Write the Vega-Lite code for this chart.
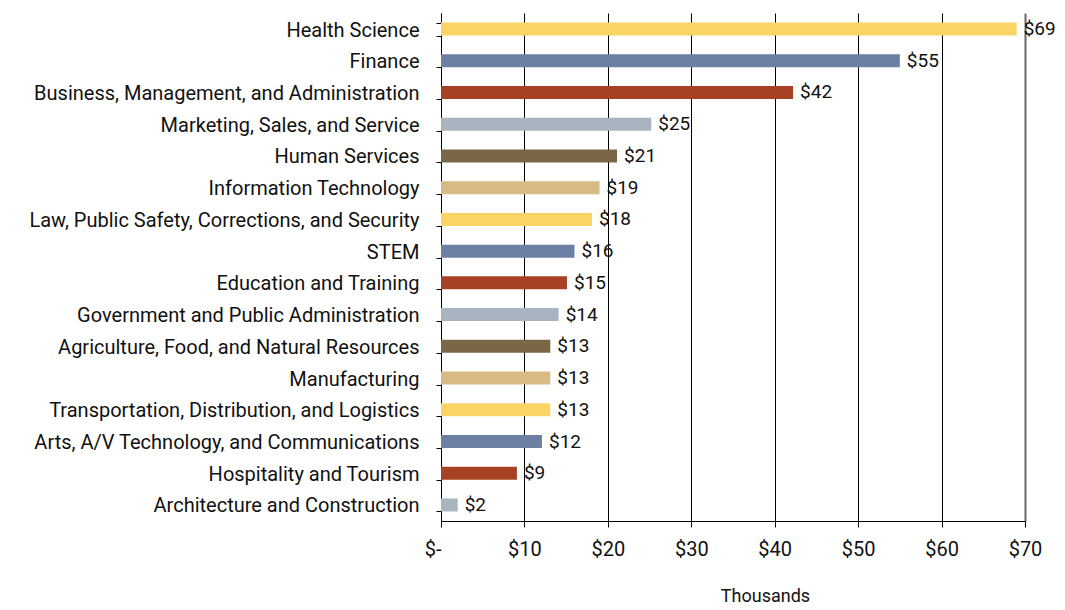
{
  "$schema": "https://vega.github.io/schema/vega-lite/v6.json",
  "autosize": "none",
  "width": 584,
  "height": 508,
  "padding": {"left": 441, "top": 13, "right": 40, "bottom": 89},
  "background": "white",
  "config": {
    "view": {"stroke": null},
    "font": "Roboto"
  },
  "data": {
    "values": [
      {"career": "Health Science", "value": 69},
      {"career": "Finance", "value": 55},
      {"career": "Business, Management, and Administration", "value": 42.2},
      {"career": "Marketing, Sales, and Service", "value": 25.2},
      {"career": "Human Services", "value": 21.1},
      {"career": "Information Technology", "value": 19},
      {"career": "Law, Public Safety, Corrections, and Security", "value": 18.1},
      {"career": "STEM", "value": 16},
      {"career": "Education and Training", "value": 15.1},
      {"career": "Government and Public Administration", "value": 14.1},
      {"career": "Agriculture, Food, and Natural Resources", "value": 13.1},
      {"career": "Manufacturing", "value": 13.1},
      {"career": "Transportation, Distribution, and Logistics", "value": 13.1},
      {"career": "Arts, A/V Technology, and Communications", "value": 12.1},
      {"career": "Hospitality and Tourism", "value": 9.1},
      {"career": "Architecture and Construction", "value": 2}
    ]
  },
  "encoding": {
    "y": {
      "field": "career",
      "type": "nominal",
      "sort": null,
      "scale": {"paddingInner": 0.59, "paddingOuter": 0.3},
      "axis": {
        "title": null,
        "domainColor": "black",
        "tickColor": "black",
        "tickSize": 5,
        "tickBand": "extent",
        "labelPadding": 17,
        "labelFontSize": 20,
        "labelColor": "#111111",
        "labelLimit": 500,
        "labelOffset": 1
      }
    },
    "x": {
      "field": "value",
      "type": "quantitative",
      "scale": {"domain": [0, 70], "nice": false},
      "axis": {
        "values": [0, 10, 20, 30, 40, 50, 60, 70],
        "labelExpr": "datum.value == 0 ? '$-' : '$' + datum.value",
        "labelFlush": false,
        "labelAlign": {"condition": {"test": "datum.value == 0", "value": "right"}, "value": "center"},
        "grid": true,
        "gridColor": {"condition": {"test": "datum.value == 70", "value": "#666666"}, "value": "black"},
        "gridWidth": {"condition": {"test": "datum.value == 70", "value": 2}, "value": 1},
        "domainColor": "black",
        "tickColor": "black",
        "tickSize": 6,
        "labelPadding": 12,
        "labelFontSize": 20,
        "labelColor": "#111111",
        "title": "Thousands",
        "titleFontSize": 18,
        "titleFontWeight": "normal",
        "titleColor": "#111111",
        "titleX": 324,
        "titleY": 66
      }
    }
  },
  "layer": [
    {
      "mark": {"type": "bar"},
      "encoding": {
        "color": {
          "field": "career",
          "type": "nominal",
          "legend": null,
          "scale": {
            "domain": ["Health Science", "Finance", "Business, Management, and Administration", "Marketing, Sales, and Service", "Human Services", "Information Technology", "Law, Public Safety, Corrections, and Security", "STEM", "Education and Training", "Government and Public Administration", "Agriculture, Food, and Natural Resources", "Manufacturing", "Transportation, Distribution, and Logistics", "Arts, A/V Technology, and Communications", "Hospitality and Tourism", "Architecture and Construction"],
            "range": ["#FBD467", "#6B80A3", "#A64223", "#A8B5C0", "#7A6745", "#D8BA85", "#FBD467", "#6B80A3", "#A64223", "#A8B5C0", "#7A6745", "#D8BA85", "#FBD467", "#6B80A3", "#A64223", "#A8B5C0"]
          }
        }
      }
    },
    {
      "mark": {"type": "text", "align": "left", "baseline": "middle", "dx": 7, "fontSize": 19, "color": "#111111"},
      "encoding": {
        "text": {"field": "value", "type": "quantitative", "format": "$.0f"}
      }
    }
  ]
}
